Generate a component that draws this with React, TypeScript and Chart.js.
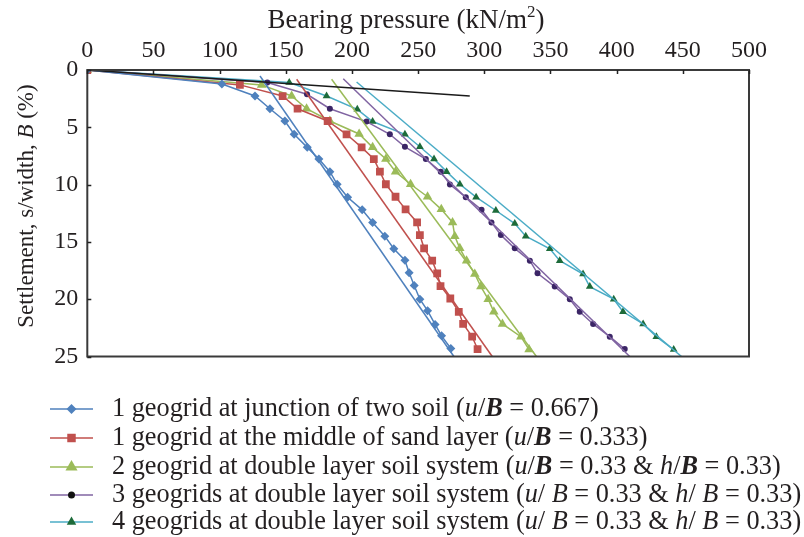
import React, { useEffect, useRef } from 'react';
import { Chart, registerables } from 'chart.js';

Chart.register(...registerables);

const FONT = '"Liberation Serif", "Times New Roman", serif';
const TEXT = '#231F20';

// x axis: bearing pressure (kN/m2), y axis: settlement s/B (%)
const xMin = 0, xMax = 500, xStep = 50;
const yMin = 0, yMax = 25, yStep = 5;

const s1Pressure = [0, 101.7, 126.7, 138, 149.3, 156.3, 166.2, 175, 183.3, 188.8, 196.7, 207.7, 215.6, 224.8, 231.6, 240, 243.2, 247, 251.3, 257.1, 262.8, 267.7, 274.7];
const s1Settlement = [0, 1.22, 2.27, 3.38, 4.45, 5.61, 6.75, 7.77, 8.87, 9.97, 11.1, 12.2, 13.3, 14.5, 15.6, 16.6, 17.7, 18.8, 20.0, 21.0, 22.2, 23.2, 24.3];

const s2Pressure = [0, 115.3, 147.6, 158.9, 181.6, 195.9, 207.3, 216.5, 221.1, 225.6, 232.9, 240.5, 249.2, 251.3, 254.5, 260.6, 264.4, 266.9, 274.3, 280.7, 284, 290.8, 294.9];
const s2Settlement = [0, 1.3, 2.27, 3.38, 4.45, 5.61, 6.75, 7.77, 8.87, 9.97, 11.06, 12.16, 13.3, 14.4, 15.56, 16.64, 17.74, 18.85, 19.94, 21.1, 22.16, 23.27, 24.35];

const s3Pressure = [0, 131.7, 154.4, 165.7, 183.3, 205.4, 215.6, 225.6, 232.9, 244.3, 257.1, 267.5, 276, 277.7, 281.5, 286.6, 292.8, 297.4, 302.9, 307.2, 313.7, 327.6, 333.8];
const s3Settlement = [0, 1.3, 2.27, 3.38, 4.45, 5.58, 6.75, 7.77, 8.87, 9.97, 11.06, 12.16, 13.3, 14.5, 15.56, 16.64, 17.8, 18.9, 20.0, 21.1, 22.16, 23.27, 24.4];

const s4Pressure = [0, 136, 166, 183.3, 211, 228.6, 240, 255.8, 267.1, 274, 286, 297.9, 305.4, 312.5, 323, 334.4, 340.2, 353.2, 364.6, 372.1, 382.2, 394.8, 406.1];
const s4Settlement = [0, 1.1, 2.12, 3.38, 4.5, 5.61, 6.7, 7.77, 8.87, 10.0, 11.1, 12.2, 13.3, 14.4, 15.56, 16.64, 17.74, 18.9, 20.0, 21.1, 22.16, 23.27, 24.35];

const s5Pressure = [0, 152.6, 180.8, 204, 215.6, 240, 251.3, 262, 271.5, 281.5, 293.8, 308.7, 323, 331.3, 349.5, 357, 374.6, 379.7, 397.8, 404.8, 420, 430, 443.1];
const s5Settlement = [0, 1.1, 2.27, 3.43, 4.5, 5.61, 6.7, 7.77, 8.87, 9.97, 11.1, 12.26, 13.4, 14.5, 15.6, 16.64, 17.8, 18.9, 20.0, 21.1, 22.16, 23.27, 24.4];

// straight-line fits (final tangents)
const fit1Pressure = [130.5, 277];
const fit1Settlement = [0.52, 25];
const fit2Pressure = [158.2, 306];
const fit2Settlement = [0.81, 25];
const fit3Pressure = [184.6, 339.4];
const fit3Settlement = [0.81, 25];
const fit4Pressure = [193.4, 409.9];
const fit4Settlement = [0.76, 25];
const fit5Pressure = [203.5, 449];
const fit5Settlement = [1.05, 25];

// initial tangent
const initPressure = [0, 289];
const initSettlement = [0, 2.27];

type Seg = { t: string; s?: 'i' | 'bi' | 'sup' };
const legend1: Seg[] = [{ t: '1 geogrid at junction of two soil (' }, { t: 'u', s: 'i' }, { t: '/' }, { t: 'B', s: 'bi' }, { t: ' = 0.667)' }];
const legend2: Seg[] = [{ t: '1 geogrid at the middle of sand layer (' }, { t: 'u', s: 'i' }, { t: '/' }, { t: 'B', s: 'bi' }, { t: ' = 0.333)' }];
const legend3: Seg[] = [{ t: '2 geogrid at double layer soil system (' }, { t: 'u', s: 'i' }, { t: '/' }, { t: 'B', s: 'bi' }, { t: ' = 0.33 & ' }, { t: 'h', s: 'i' }, { t: '/' }, { t: 'B', s: 'bi' }, { t: ' = 0.33)' }];
const legend4: Seg[] = [{ t: '3 geogrids at double layer soil system (' }, { t: 'u', s: 'i' }, { t: '/ ' }, { t: 'B', s: 'i' }, { t: ' = 0.33 & ' }, { t: 'h', s: 'i' }, { t: '/ ' }, { t: 'B', s: 'i' }, { t: ' = 0.33)' }];
const legend5: Seg[] = [{ t: '4 geogrids at double layer soil system (' }, { t: 'u', s: 'i' }, { t: '/ ' }, { t: 'B', s: 'i' }, { t: ' = 0.33 & ' }, { t: 'h', s: 'i' }, { t: '/ ' }, { t: 'B', s: 'i' }, { t: ' = 0.33)' }];
const yTitle: Seg[] = [{ t: 'Settlement, s/width, ' }, { t: 'B', s: 'i' }, { t: ' (%)' }];
const xTitle: Seg[] = [{ t: 'Bearing pressure (kN/m' }, { t: '2', s: 'sup' }, { t: ')' }];

const BLUE = '#4F81BD';
const RED = '#C0504D';
const GREEN = '#9BBB59';
const PURPLE = '#8064A2';
const PURPLE_MK = '#3B2566';
const TEAL = '#4BACC6';
const DKGREEN = '#1D6B3A';

const pts = (xs: number[], ys: number[]) => xs.map((x, i) => ({ x, y: ys[i] }));

function fontFor(s: Seg['s'], size: number) {
  if (s === 'i') return `italic ${size}px ${FONT}`;
  if (s === 'bi') return `italic bold ${size}px ${FONT}`;
  if (s === 'sup') return `${Math.round(size * 0.62)}px ${FONT}`;
  return `${size}px ${FONT}`;
}

function drawRich(ctx: CanvasRenderingContext2D, segs: Seg[], x: number, y: number, size: number) {
  let cx = x;
  for (const seg of segs) {
    ctx.font = fontFor(seg.s, size);
    ctx.fillText(seg.t, cx, seg.s === 'sup' ? y - size * 0.3 : y);
    cx += ctx.measureText(seg.t).width;
  }
  return cx;
}

function richWidth(ctx: CanvasRenderingContext2D, segs: Seg[], size: number) {
  let w = 0;
  for (const seg of segs) {
    ctx.font = fontFor(seg.s, size);
    w += ctx.measureText(seg.t).width;
  }
  return w;
}

function drawMarker(ctx: CanvasRenderingContext2D, style: string, x: number, y: number, r: number, color: string) {
  ctx.save();
  ctx.fillStyle = color;
  ctx.beginPath();
  if (style === 'rectRot') {
    ctx.moveTo(x, y - r);
    ctx.lineTo(x + r, y);
    ctx.lineTo(x, y + r);
    ctx.lineTo(x - r, y);
  } else if (style === 'rect') {
    const s = r * Math.SQRT1_2;
    ctx.rect(x - s, y - s, 2 * s, 2 * s);
  } else if (style === 'triangle') {
    ctx.moveTo(x, y - r);
    ctx.lineTo(x + r * 0.866, y + r / 2);
    ctx.lineTo(x - r * 0.866, y + r / 2);
  } else {
    ctx.arc(x, y, r, 0, Math.PI * 2);
  }
  ctx.closePath();
  ctx.fill();
  ctx.restore();
}

const legendRows = [
  { segs: legend1, line: BLUE, marker: BLUE, style: 'rectRot', r: 5 },
  { segs: legend2, line: RED, marker: RED, style: 'rect', r: 6 },
  { segs: legend3, line: GREEN, marker: GREEN, style: 'triangle', r: 7 },
  { segs: legend4, line: PURPLE, marker: '#111', style: 'circle', r: 3.5 },
  { segs: legend5, line: TEAL, marker: DKGREEN, style: 'triangle', r: 5.5 },
];
const legendY = [409, 438, 467, 495, 522];

const decorPlugin = {
  id: 'decor',
  afterDatasetsDraw(chart: any) {
    const { ctx, chartArea: a, scales } = chart;
    ctx.save();
    ctx.strokeStyle = '#3a3a3a';
    ctx.lineWidth = 2;
    ctx.strokeRect(a.left, a.top, a.right - a.left, a.bottom - a.top);
    ctx.lineWidth = 1.5;
    ctx.strokeStyle = '#222';
    ctx.beginPath();
    for (let v = xMin; v <= xMax; v += xStep) {
      const px = Math.round(scales.x.getPixelForValue(v)) + 0.5;
      ctx.moveTo(px, a.top);
      ctx.lineTo(px, a.top + 4);
    }
    for (let v = yMin; v <= yMax; v += yStep) {
      const py = Math.round(scales.y.getPixelForValue(v)) + 0.5;
      ctx.moveTo(a.left, py);
      ctx.lineTo(a.left + 4, py);
    }
    ctx.stroke();
    ctx.restore();
  },
  afterDraw(chart: any) {
    const { ctx } = chart;
    ctx.save();
    ctx.fillStyle = TEXT;
    ctx.textBaseline = 'middle';
    // x title
    const xSize = 27;
    const xw = richWidth(ctx, xTitle, xSize);
    drawRich(ctx, xTitle, 406 - xw / 2, 21, xSize);
    // y title rotated
    const ySize = 23;
    const w = richWidth(ctx, yTitle, ySize);
    ctx.save();
    ctx.translate(27, 206);
    ctx.rotate(-Math.PI / 2);
    drawRich(ctx, yTitle, -w / 2, 0, ySize);
    ctx.restore();
    // legend
    legendRows.forEach((row, i) => {
      const y = legendY[i];
      ctx.strokeStyle = row.line;
      ctx.lineWidth = 1.5;
      ctx.beginPath();
      ctx.moveTo(50, y);
      ctx.lineTo(93, y);
      ctx.stroke();
      drawMarker(ctx, row.style, 71.5, y, row.r, row.marker);
      ctx.fillStyle = TEXT;
      drawRich(ctx, row.segs, 112, y, 26.3);
    });
    ctx.restore();
  },
};

export default function App() {
  const ref = useRef<HTMLCanvasElement>(null);
  useEffect(() => {
    if (!ref.current) return;
    const dataLine = (data: any, color: string, mk: string, style: string, r: number) => ({
      data,
      showLine: true,
      borderColor: color,
      backgroundColor: mk,
      borderWidth: 1.5,
      pointStyle: style,
      pointRadius: r,
      pointBorderWidth: 0,
      pointBackgroundColor: mk,
      pointBorderColor: mk,
    });
    const fitLine = (data: any, color: string) => ({
      data,
      showLine: true,
      borderColor: color,
      borderWidth: 1.5,
      pointRadius: 0,
    });
    const chart = new Chart(ref.current, {
      type: 'scatter',
      data: {
        datasets: [
          fitLine(pts(initPressure, initSettlement), '#1a1a1a'),
          fitLine(pts(fit1Pressure, fit1Settlement), BLUE),
          fitLine(pts(fit2Pressure, fit2Settlement), RED),
          fitLine(pts(fit3Pressure, fit3Settlement), GREEN),
          fitLine(pts(fit4Pressure, fit4Settlement), PURPLE),
          fitLine(pts(fit5Pressure, fit5Settlement), TEAL),
          dataLine(pts(s1Pressure, s1Settlement), BLUE, BLUE, 'rectRot', 4.5),
          dataLine(pts(s2Pressure, s2Settlement), RED, RED, 'rect', 5.5),
          dataLine(pts(s3Pressure, s3Settlement), GREEN, GREEN, 'triangle', 5.5),
          dataLine(pts(s4Pressure, s4Settlement), PURPLE, PURPLE_MK, 'circle', 3),
          dataLine(pts(s5Pressure, s5Settlement), TEAL, DKGREEN, 'triangle', 4.5),
        ] as any,
      },
      options: {
        animation: false,
        responsive: false,
        maintainAspectRatio: false,
        layout: { padding: { top: 0, left: 0, right: 55, bottom: 180.5 } },
        plugins: { legend: { display: false }, tooltip: { enabled: false } },
        scales: {
          x: {
            type: 'linear',
            position: 'top',
            min: xMin,
            max: xMax,
            ticks: { stepSize: xStep, font: { family: FONT, size: 24 }, color: TEXT, padding: 4.6, maxRotation: 0, autoSkip: false },
            grid: { display: false, drawTicks: false },
            border: { display: false },
            afterFit: (s: any) => { s.height = 70; },
          },
          y: {
            type: 'linear',
            reverse: true,
            min: yMin,
            max: yMax,
            ticks: { stepSize: yStep, font: { family: FONT, size: 24 }, color: TEXT, padding: 9, autoSkip: false },
            grid: { display: false, drawTicks: false },
            border: { display: false },
            afterFit: (s: any) => { s.width = 87.3; },
          },
        },
      } as any,
      plugins: [decorPlugin],
    });
    return () => chart.destroy();
  }, []);
  return (
    <div style={{ position: 'absolute', left: 0, top: 0, width: 804, height: 537, background: '#fff' }}>
      <canvas ref={ref} width={804} height={537} style={{ display: 'block', width: 804, height: 537 }} />
    </div>
  );
}
